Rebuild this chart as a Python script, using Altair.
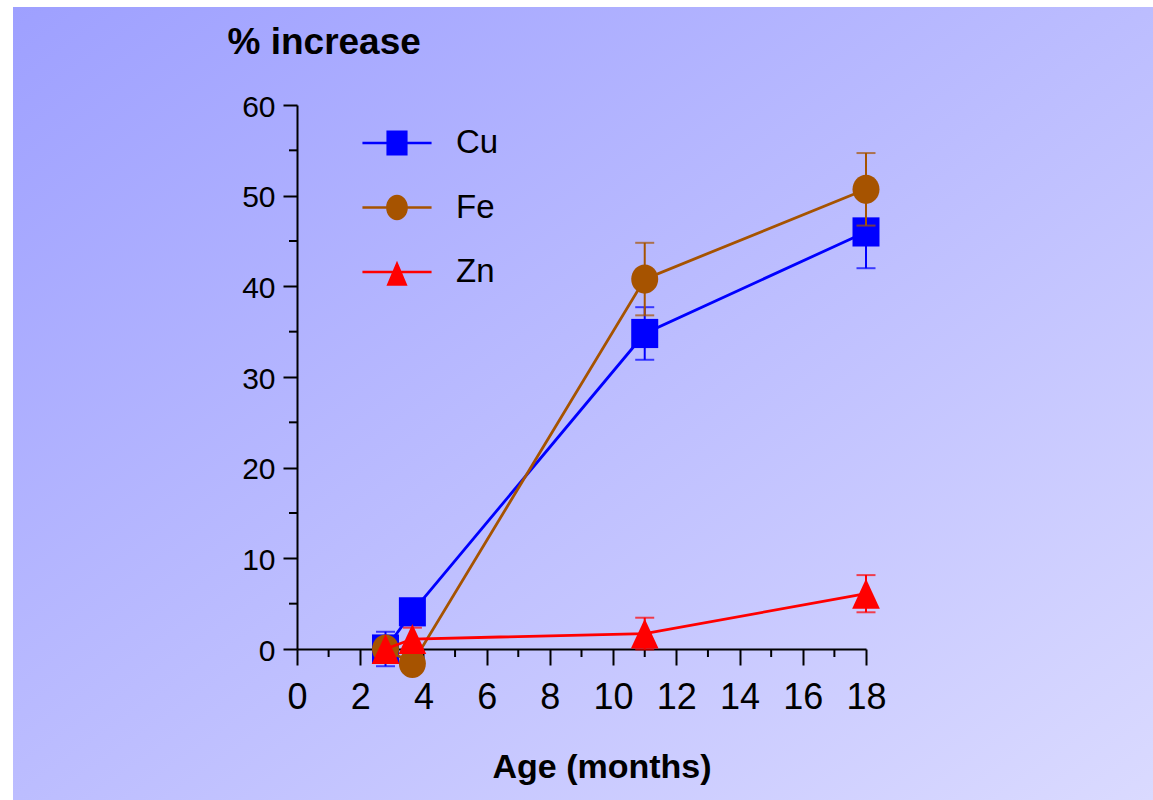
import altair as alt
import pandas as pd

# Age at measurement (months)
AGE = [2.8, 3.65, 11, 18]

# Mean % increase and error (+/-) for each metal
CU = [0.0, 4.1, 34.8, 46.0]
CU_ERR = [1.9, 1.2, 2.9, 4.0]
FE = [0.0, -1.6, 40.8, 50.7]
FE_ERR = [1.0, 1.0, 4.0, 4.0]
ZN = [0.0, 1.1, 1.7, 6.1]
ZN_ERR = [0.0, 1.25, 1.75, 2.05]

SERIES = ["Cu", "Fe", "Zn"]
COLORS = ["#0000FF", "#A65300", "#FF0000"]

# Axis tick positions
X_MAJOR = [0, 2, 4, 6, 8, 10, 12, 14, 16, 18]
X_MINOR = [1, 3, 5, 7, 9, 11, 13, 15, 17]
Y_MAJOR = [0, 10, 20, 30, 40, 50, 60]
Y_MINOR = [5, 15, 25, 35, 45, 55]

FONT = "Liberation Sans"

# The view spans the whole shaded panel; the data frame sits inside it.
W, H = 1140, 793
X0, X1 = 284, 853      # pixel span of the age axis inside the panel
Y0, Y1 = 642, 98       # pixel span of the % axis (0 at bottom, 60 at top)

rows = []
for name, vals, errs in [("Cu", CU, CU_ERR), ("Fe", FE, FE_ERR), ("Zn", ZN, ZN_ERR)]:
    for a, v, e in zip(AGE, vals, errs):
        rows.append({"series": name, "age": a, "value": v, "err": e,
                     "lo": v - e, "hi": v + e})
df = pd.DataFrame(rows)
df_err = df[df["err"] > 0]

# Marker outlines for the data points
POINT_SHAPE = {
    "Cu": "M-1,-1.08H1V1.08H-1Z",
    "Fe": "M-1,0A1,1.08 0 1,1 1,0A1,1.08 0 1,1 -1,0Z",
    "Zn": "M0,-1.08L1,1.08L-1,1.08Z",
}
POINT_SIZE = {"Cu": 729, "Fe": 729, "Zn": 767}

# Legend glyphs: a short line segment with the marker centred on it
LEG_LINE = "M-1.08,-0.04H1.08V0.04H-1.08Z "
LEG_SHAPES = [
    LEG_LINE + "M-0.33,-0.39H0.33V0.39H-0.33Z",
    LEG_LINE + "M-0.34,0A0.34,0.4 0 1,1 0.34,0A0.34,0.4 0 1,1 -0.34,0Z",
    LEG_LINE + "M0,-0.35L0.33,0.43L-0.33,0.43Z",
]

legend = alt.Legend(
    orient="none", legendX=352, legendY=104, title=None,
    labelFont=FONT, labelFontSize=33, labelColor="black",
    symbolSize=4096, symbolStrokeWidth=0, symbolOpacity=1, padding=0,
    rowPadding=15.5, labelOffset=27,
)

X_AXIS = alt.Axis(
    values=X_MAJOR, format="d", tickSize=16, tickWidth=2, tickColor="black",
    domainWidth=2, domainColor="black", grid=False, offset=Y0 - H,
    labelFont=FONT, labelFontSize=36, labelColor="black", labelPadding=15,
    labelFlush=False, labelOverlap=False,
    title="Age (months)", titleFont=FONT, titleFontSize=34, titleFontWeight="bold",
    titleColor="black", titleX=588.5, titleY=128, titleAlign="center",
    titleBaseline="alphabetic",
)
Y_AXIS = alt.Axis(
    values=Y_MAJOR, format="d", tickSize=14, tickWidth=2, tickColor="black",
    domainWidth=2, domainColor="black", grid=False, offset=-X0,
    labelFont=FONT, labelFontSize=30, labelColor="black", labelPadding=8,
    labelFlush=False, labelOverlap=False, labelOffset=2,
    title="% increase", titleFont=FONT, titleFontSize=37, titleFontWeight="bold",
    titleColor="black", titleAngle=0, titleX=-70, titleY=46,
    titleAlign="left", titleBaseline="alphabetic",
)
x_scale = alt.Scale(domain=[0, 18], range=[X0, X1], nice=False, zero=False)
y_scale = alt.Scale(domain=[0, 60], range=[Y0, Y1], nice=False, zero=False)


def xq(field):
    return alt.X(field, type="quantitative", scale=x_scale, axis=X_AXIS)


def yq(field):
    return alt.Y(field, type="quantitative", scale=y_scale, axis=Y_AXIS)


color_enc = alt.Color("series:N", scale=alt.Scale(domain=SERIES, range=COLORS), legend=legend)

# Minor ticks on both axes
y_minor = alt.Chart(pd.DataFrame({"v": Y_MINOR})).mark_rule(color="black", strokeWidth=2).encode(
    y=yq("v"), x=alt.value(X0 - 8), x2=alt.value(X0))
x_minor = alt.Chart(pd.DataFrame({"v": X_MINOR})).mark_rule(color="black", strokeWidth=2).encode(
    x=xq("v"), y=alt.value(Y0), y2=alt.value(Y0 + 8))

layers = [y_minor, x_minor]
for name in SERIES:
    sub = df[df["series"] == name]
    sub_err = df_err[df_err["series"] == name]
    line = alt.Chart(sub).mark_line(strokeWidth=2.8).encode(
        x=xq("age"), y=yq("value"), color=color_enc, order="age:Q")
    layers.append(alt.Chart(sub_err).mark_rule(strokeWidth=2).encode(
        x=xq("age"), y=yq("lo"), y2="hi:Q", color=color_enc))
    for end in ("lo", "hi"):
        layers.append(alt.Chart(sub_err).mark_tick(orient="horizontal", size=19, thickness=2).encode(
            x=xq("age"), y=yq(end), color=color_enc))
    pts = alt.Chart(sub).mark_point(
        filled=True, opacity=1, shape=POINT_SHAPE[name], size=POINT_SIZE[name], strokeWidth=0
    ).encode(x=xq("age"), y=yq("value"), color=color_enc)
    layers += [line, pts]

# Legend-only layer (no rows drawn); supplies the line+marker glyphs
legend_layer = alt.Chart(df).transform_filter("datum.value > 1000").mark_point(
    filled=True, opacity=1
).encode(
    x=xq("age"), y=yq("value"), color=color_enc,
    shape=alt.Shape("series:N", scale=alt.Scale(domain=SERIES, range=LEG_SHAPES), legend=legend),
)
layers.append(legend_layer)

# Diagonal shading of the panel, from deeper blue (top left) to pale lavender
PANEL_FILL = ("{gradient: 'linear', x1: 0, y1: 0, x2: 1, y2: 1, "
              "stops: [{offset: 0, color: '#9EA0FF'}, {offset: 1, color: '#DADAFF'}]}")

chart = alt.layer(*layers).properties(
    width=W, height=H,
    autosize=alt.AutoSizeParams(type="none"),
    padding={"left": 13, "top": 7, "right": 0, "bottom": 0},
    background="white",
).configure_view(stroke=None, fill={"expr": PANEL_FILL})

chart.save("out.html", embed_options={"renderer": "svg", "actions": False})
